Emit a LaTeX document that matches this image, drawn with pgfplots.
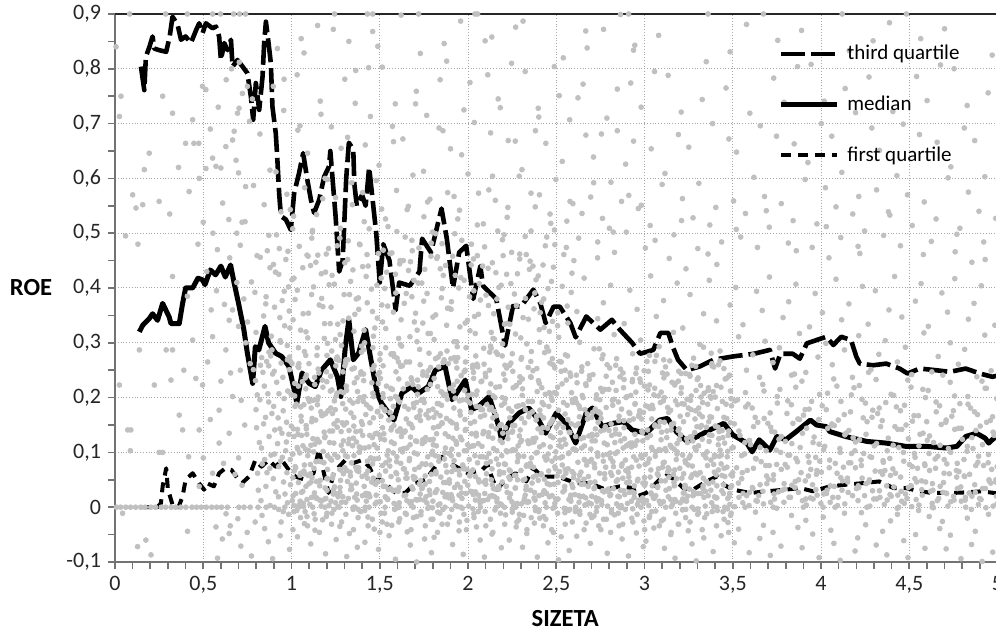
\documentclass[border=0pt]{standalone}
\usepackage{pgfplots}
\pgfplotsset{compat=1.18}
\usepackage{fontspec}
\setmainfont{Carlito}
\definecolor{ptgray}{RGB}{192,192,192}
\begin{document}
\begin{tikzpicture}
\begin{axis}[
    at={(0pt,0pt)}, anchor=south west,
    scale only axis,
    width=441.25pt, height=274pt,
    xmin=0, xmax=5, ymin=-0.1, ymax=0.9,
    xtick={0,0.5,1,1.5,2,2.5,3,3.5,4,4.5,5},
    ytick={-0.1,0,0.1,0.2,0.3,0.4,0.5,0.6,0.7,0.8,0.9},
    minor x tick num=4, minor y tick num=1,
    tick pos=left, tick align=outside,
    major tick length=3.5pt, minor tick length=3.5pt,
    tick style={black!55, line width=0.8pt},
    axis line style={black!55, line width=0.9pt},
    grid=major,
    major grid style={densely dotted, black!35, line width=0.5pt},
    /pgf/number format/use comma,
    /pgf/number format/assume math mode=true,
    ticklabel style={font=\fontsize{11}{13}\selectfont, text=black!85},
    xlabel={SIZETA}, ylabel={ROE},
    every axis x label/.style={at={(rel axis cs:0.5,0)}, anchor=center, yshift=-28.5pt, xshift=4.5pt,
        font=\fontsize{12.3}{14}\selectfont\bfseries},
    every axis y label/.style={at={(rel axis cs:0,0.5)}, anchor=center, xshift=-42pt,
        font=\fontsize{12.3}{14}\selectfont\bfseries},
    legend style={draw=none, fill=none, at={(rel axis cs:0.7513,1)}, anchor=north west, yshift=-15.5pt,
        inner sep=0pt, row sep=16.5pt, column sep=4pt, font=\fontsize{10.5}{12}\selectfont,
        nodes={inner sep=0pt}},
    legend cell align=left,
    legend image code/.code={\draw[#1] (0pt,0pt) -- (28pt,0pt);},
    pts/.style={only marks, mark=*, mark size=1.2pt, color=ptgray, forget plot},
]
% ---- scatter: dense band x 1.0-3.5, first pass
\addplot[pts] coordinates {
(1.004,0.012)(0.993,0.087)(1.011,0.143)(0.998,0.206)(1.008,0.054)(0.988,0.251)
(1.021,0.074)(1.036,0.133)(1.027,0.188)(1.042,0.262)(1.024,0.025)(1.032,0.109)
(1.07,0.066)(1.056,0.157)(1.061,0.229)(1.049,0.011)(1.065,0.112)(1.052,0.183)
(1.094,0.058)(1.083,0.149)(1.101,0.193)(1.088,0.014)(1.098,0.103)(1.078,0.236)
(1.111,0.046)(1.126,0.101)(1.117,0.162)(1.132,0.224)(1.114,0.018)(1.122,0.195)
(1.16,0.039)(1.146,0.124)(1.151,0.201)(1.139,0.083)(1.155,0.245)(1.142,0.017)
(1.184,0.081)(1.173,0.167)(1.191,0.035)(1.178,0.219)(1.188,0.127)(1.168,0.002)
(1.201,0.031)(1.216,0.118)(1.207,0.176)(1.222,0.239)(1.204,0.069)(1.212,0.003)
(1.25,0.008)(1.236,0.059)(1.241,0.152)(1.229,0.214)(1.245,0.096)(1.232,0.171)
(1.274,0.027)(1.263,0.092)(1.281,0.138)(1.268,0.268)(1.278,0.049)(1.258,0.208)
(1.291,0.019)(1.306,0.094)(1.297,0.15)(1.312,0.213)(1.294,0.061)(1.302,0.258)
(1.34,0.081)(1.326,0.14)(1.331,0.195)(1.319,0.269)(1.335,0.032)(1.322,0.116)
(1.364,0.073)(1.353,0.164)(1.371,0.236)(1.358,0.018)(1.368,0.119)(1.348,0.19)
(1.381,0.065)(1.396,0.156)(1.387,0.2)(1.402,0.021)(1.384,0.11)(1.392,0.243)
(1.43,0.053)(1.416,0.108)(1.421,0.169)(1.409,0.231)(1.425,0.025)(1.412,0.202)
(1.454,0.046)(1.443,0.131)(1.461,0.208)(1.448,0.09)(1.458,0.252)(1.438,0.024)
(1.471,0.088)(1.486,0.174)(1.477,0.042)(1.492,0.226)(1.474,0.134)(1.482,0.009)
(1.52,0.038)(1.506,0.125)(1.511,0.183)(1.499,0.246)(1.515,0.076)(1.502,0.01)
(1.544,0.015)(1.533,0.066)(1.551,0.159)(1.538,0.221)(1.548,0.103)(1.528,0.178)
(1.561,0.034)(1.576,0.099)(1.567,0.145)(1.582,0.275)(1.564,0.056)(1.572,0.215)
(1.61,0.008)(1.596,0.083)(1.601,0.139)(1.589,0.202)(1.605,0.05)(1.592,0.247)
(1.634,0.07)(1.623,0.129)(1.641,0.184)(1.628,0.258)(1.638,0.021)(1.618,0.105)
(1.651,0.062)(1.666,0.153)(1.657,0.225)(1.672,0.007)(1.654,0.108)(1.662,0.179)
(1.70,0.054)(1.686,0.145)(1.691,0.189)(1.679,0.01)(1.695,0.099)(1.682,0.232)
(1.724,0.042)(1.713,0.097)(1.731,0.158)(1.718,0.22)(1.728,0.014)(1.708,0.191)
(1.741,0.035)(1.756,0.12)(1.747,0.197)(1.762,0.079)(1.744,0.241)(1.752,0.013)
(1.79,0.077)(1.776,0.163)(1.781,0.031)(1.769,0.215)(1.785,0.123)(1.772,-0.002)
(1.814,0.027)(1.803,0.114)(1.821,0.172)(1.808,0.235)(1.818,0.065)(1.798,-0.001)
(1.831,0.004)(1.846,0.055)(1.837,0.148)(1.852,0.21)(1.834,0.092)(1.842,0.167)
(1.88,0.023)(1.866,0.088)(1.871,0.134)(1.859,0.264)(1.875,0.045)(1.862,0.204)
(1.904,0.023)(1.893,0.098)(1.911,0.154)(1.898,0.217)(1.908,0.065)(1.888,0.262)
(1.921,0.085)(1.936,0.144)(1.927,0.199)(1.942,0.273)(1.924,0.036)(1.932,0.12)
(1.97,0.077)(1.956,0.168)(1.961,0.24)(1.949,0.022)(1.965,0.123)(1.952,0.194)
(1.994,0.069)(1.983,0.16)(2.001,0.204)(1.988,0.025)(1.998,0.114)(1.978,0.247)
(2.011,0.057)(2.026,0.112)(2.017,0.173)(2.032,0.235)(2.014,0.029)(2.022,0.206)
(2.06,0.05)(2.046,0.135)(2.051,0.212)(2.039,0.094)(2.055,0.256)(2.042,0.028)
(2.084,0.092)(2.073,0.178)(2.091,0.046)(2.078,0.23)(2.088,0.138)(2.068,0.013)
(2.101,0.042)(2.116,0.129)(2.107,0.187)(2.122,0.25)(2.104,0.08)(2.112,0.014)
(2.15,0.019)(2.136,0.07)(2.141,0.163)(2.129,0.225)(2.145,0.107)(2.132,0.182)
(2.174,0.038)(2.163,0.103)(2.181,0.149)(2.168,0.279)(2.178,0.06)(2.158,0.219)
(2.191,0.004)(2.206,0.079)(2.197,0.135)(2.212,0.198)(2.194,0.046)(2.202,0.243)
(2.24,0.066)(2.226,0.125)(2.231,0.18)(2.219,0.254)(2.235,0.017)(2.222,0.101)
(2.264,0.058)(2.253,0.149)(2.271,0.221)(2.258,0.003)(2.268,0.104)(2.248,0.175)
(2.281,0.05)(2.296,0.141)(2.287,0.185)(2.302,0.006)(2.284,0.095)(2.292,0.228)
(2.33,0.038)(2.316,0.093)(2.321,0.154)(2.309,0.216)(2.325,0.01)(2.312,0.187)
(2.354,0.031)(2.343,0.116)(2.361,0.193)(2.348,0.075)(2.358,0.237)(2.338,0.009)
(2.371,0.073)(2.386,0.159)(2.377,0.027)(2.392,0.211)(2.374,0.119)(2.382,-0.006)
(2.42,0.023)(2.406,0.11)(2.411,0.168)(2.399,0.231)(2.415,0.061)(2.402,-0.005)
(2.444,0.0)(2.433,0.051)(2.451,0.144)(2.438,0.206)(2.448,0.088)(2.428,0.163)
(2.461,0.019)(2.476,0.084)(2.467,0.13)(2.482,0.26)(2.464,0.041)(2.472,0.2)
(2.51,0.015)(2.496,0.09)(2.501,0.146)(2.489,0.209)(2.505,0.057)(2.492,0.254)
(2.534,0.077)(2.523,0.136)(2.541,0.191)(2.528,0.265)(2.538,0.028)(2.518,0.112)
(2.551,0.069)(2.566,0.16)(2.557,0.232)(2.572,0.014)(2.554,0.115)(2.562,0.186)
(2.60,0.061)(2.586,0.152)(2.591,0.196)(2.579,0.017)(2.595,0.106)(2.582,0.239)
(2.624,0.049)(2.613,0.104)(2.631,0.165)(2.618,0.227)(2.628,0.021)(2.608,0.198)
(2.641,0.042)(2.656,0.127)(2.647,0.204)(2.662,0.086)(2.644,0.248)(2.652,0.02)
(2.69,0.084)(2.676,0.17)(2.681,0.038)(2.669,0.222)(2.685,0.13)(2.672,0.005)
(2.714,0.034)(2.703,0.121)(2.721,0.179)(2.708,0.242)(2.718,0.072)(2.698,0.006)
(2.731,0.011)(2.746,0.062)(2.737,0.155)(2.752,0.217)(2.734,0.099)(2.742,0.174)
(2.78,0.03)(2.766,0.095)(2.771,0.141)(2.759,0.271)(2.775,0.052)(2.762,0.211)
(2.804,0.021)(2.793,0.096)(2.811,0.152)(2.798,0.215)(2.808,0.063)(2.788,0.26)
(2.821,0.083)(2.836,0.142)(2.827,0.197)(2.842,0.271)(2.824,0.034)(2.832,0.118)
(2.87,0.075)(2.856,0.166)(2.861,0.238)(2.849,0.02)(2.865,0.121)(2.852,0.192)
(2.894,0.067)(2.883,0.158)(2.901,0.202)(2.888,0.023)(2.898,0.112)(2.878,0.245)
(2.911,0.055)(2.926,0.11)(2.917,0.171)(2.932,0.233)(2.914,0.027)(2.922,0.204)
(2.96,0.048)(2.946,0.133)(2.951,0.21)(2.939,0.092)(2.955,0.254)(2.942,0.026)
(2.984,0.09)(2.973,0.176)(2.991,0.044)(2.978,0.228)(2.988,0.136)(2.968,0.011)
(3.001,0.04)(3.016,0.127)(3.007,0.185)(3.022,0.248)(3.004,0.078)(3.012,0.012)
(3.05,0.017)(3.036,0.068)(3.041,0.161)(3.029,0.223)(3.045,0.105)(3.032,0.18)
(3.074,0.036)(3.063,0.101)(3.081,0.147)(3.068,0.277)(3.078,0.058)(3.058,0.217)
(3.091,0.006)(3.106,0.081)(3.097,0.137)(3.112,0.2)(3.094,0.048)(3.102,0.245)
(3.14,0.068)(3.126,0.127)(3.131,0.182)(3.119,0.256)(3.135,0.019)(3.122,0.103)
(3.164,0.06)(3.153,0.151)(3.171,0.223)(3.158,0.005)(3.168,0.106)(3.148,0.177)
(3.181,0.052)(3.196,0.143)(3.187,0.187)(3.202,0.008)(3.184,0.097)(3.192,0.23)
(3.23,0.04)(3.216,0.095)(3.221,0.156)(3.209,0.218)(3.225,0.012)(3.212,0.189)
(3.254,0.033)(3.243,0.118)(3.261,0.195)(3.248,0.077)(3.258,0.239)(3.238,0.011)
(3.271,0.075)(3.286,0.161)(3.277,0.029)(3.292,0.213)(3.274,0.121)(3.282,-0.004)
(3.32,0.025)(3.306,0.112)(3.311,0.17)(3.299,0.233)(3.315,0.063)(3.302,-0.003)
(3.344,0.002)(3.333,0.053)(3.351,0.146)(3.338,0.208)(3.348,0.09)(3.328,0.165)
(3.361,0.021)(3.376,0.086)(3.367,0.132)(3.382,0.262)(3.364,0.043)(3.372,0.202)
(3.41,0.017)(3.396,0.092)(3.401,0.148)(3.389,0.211)(3.405,0.059)(3.392,0.256)
(3.434,0.079)(3.423,0.138)(3.441,0.193)(3.428,0.267)(3.438,0.03)(3.418,0.114)
(3.451,0.071)(3.466,0.162)(3.457,0.234)(3.472,0.016)(3.454,0.117)(3.462,0.188)
(3.50,0.063)(3.486,0.154)(3.491,0.198)(3.479,0.019)(3.495,0.108)(3.482,0.241)
};
% ---- dense band, second pass
\addplot[pts] coordinates {
(1.009,0.021)(1.024,0.072)(1.014,0.129)(1.02,0.184)(1.005,0.097)(1.018,0.226)
(1.052,0.062)(1.042,0.004)(1.057,0.131)(1.037,0.257)(1.047,0.099)(1.04,0.045)
(1.064,0.029)(1.079,0.106)(1.081,0.216)(1.073,0.077)(1.084,0.143)(1.068,0.001)
(1.099,0.043)(1.114,0.156)(1.104,0.005)(1.11,0.113)(1.095,0.198)(1.108,0.061)
(1.142,0.016)(1.132,0.115)(1.147,0.187)(1.127,0.071)(1.137,0.159)(1.13,0.026)
(1.154,0.084)(1.169,0.011)(1.171,0.168)(1.163,0.049)(1.174,0.232)(1.158,0.119)
(1.189,0.015)(1.204,0.094)(1.194,0.171)(1.2,0.052)(1.185,0.137)(1.198,0.247)
(1.232,0.053)(1.222,0.181)(1.237,0.024)(1.217,0.139)(1.227,0.086)(1.22,0.212)
(1.244,0.037)(1.259,0.146)(1.261,0.091)(1.253,0.203)(1.264,0.019)(1.248,0.178)
(1.279,0.068)(1.294,0.121)(1.284,0.009)(1.29,0.189)(1.275,0.036)(1.288,0.154)
(1.322,0.016)(1.312,0.067)(1.327,0.124)(1.307,0.179)(1.317,0.092)(1.31,0.221)
(1.334,0.057)(1.349,-0.001)(1.351,0.126)(1.343,0.252)(1.354,0.094)(1.338,0.04)
(1.369,0.024)(1.384,0.101)(1.374,0.211)(1.38,0.072)(1.365,0.138)(1.378,-0.004)
(1.412,0.038)(1.402,0.151)(1.417,0.0)(1.397,0.108)(1.407,0.193)(1.4,0.056)
(1.424,0.011)(1.439,0.11)(1.441,0.182)(1.433,0.066)(1.444,0.154)(1.428,0.021)
(1.459,0.079)(1.474,0.006)(1.464,0.163)(1.47,0.044)(1.455,0.227)(1.468,0.114)
(1.502,0.01)(1.492,0.089)(1.507,0.166)(1.487,0.047)(1.497,0.132)(1.49,0.242)
(1.514,0.048)(1.529,0.176)(1.531,0.019)(1.523,0.134)(1.534,0.081)(1.518,0.207)
(1.549,0.032)(1.564,0.141)(1.554,0.086)(1.56,0.198)(1.545,0.014)(1.558,0.173)
(1.592,0.063)(1.582,0.116)(1.597,0.004)(1.577,0.184)(1.587,0.031)(1.58,0.149)
(1.604,0.029)(1.619,0.08)(1.621,0.137)(1.613,0.192)(1.624,0.105)(1.608,0.234)
(1.639,0.07)(1.654,0.012)(1.644,0.139)(1.65,0.265)(1.635,0.107)(1.648,0.053)
(1.682,0.037)(1.672,0.114)(1.687,0.224)(1.667,0.085)(1.677,0.151)(1.67,0.009)
(1.694,0.051)(1.709,0.164)(1.711,0.013)(1.703,0.121)(1.714,0.206)(1.698,0.069)
(1.729,0.024)(1.744,0.123)(1.734,0.195)(1.74,0.079)(1.725,0.167)(1.738,0.034)
(1.772,0.092)(1.762,0.019)(1.777,0.176)(1.757,0.057)(1.767,0.24)(1.76,0.127)
(1.784,0.023)(1.799,0.102)(1.801,0.179)(1.793,0.06)(1.804,0.145)(1.788,0.255)
(1.819,0.061)(1.834,0.189)(1.824,0.032)(1.83,0.147)(1.815,0.094)(1.828,0.22)
(1.862,0.045)(1.852,0.154)(1.867,0.099)(1.847,0.211)(1.857,0.027)(1.85,0.186)
(1.874,0.076)(1.889,0.129)(1.891,0.017)(1.883,0.197)(1.894,0.044)(1.878,0.162)
(1.909,0.018)(1.924,0.069)(1.914,0.126)(1.92,0.181)(1.905,0.094)(1.918,0.223)
(1.952,0.059)(1.942,0.001)(1.957,0.128)(1.937,0.254)(1.947,0.096)(1.94,0.042)
(1.964,0.026)(1.979,0.103)(1.981,0.213)(1.973,0.074)(1.984,0.14)(1.968,-0.002)
(1.999,0.04)(2.014,0.153)(2.004,0.002)(2.01,0.11)(1.995,0.195)(2.008,0.058)
(2.042,0.013)(2.032,0.112)(2.047,0.184)(2.027,0.068)(2.037,0.156)(2.03,0.023)
(2.054,0.081)(2.069,0.008)(2.071,0.165)(2.063,0.046)(2.074,0.229)(2.058,0.116)
(2.089,0.012)(2.104,0.091)(2.094,0.168)(2.1,0.049)(2.085,0.134)(2.098,0.244)
(2.132,0.05)(2.122,0.178)(2.137,0.021)(2.117,0.136)(2.127,0.083)(2.12,0.209)
(2.144,0.034)(2.159,0.143)(2.161,0.088)(2.153,0.2)(2.164,0.016)(2.148,0.175)
(2.179,0.065)(2.194,0.118)(2.184,0.006)(2.19,0.186)(2.175,0.033)(2.188,0.151)
(2.222,0.027)(2.212,0.078)(2.227,0.135)(2.207,0.19)(2.217,0.103)(2.21,0.232)
(2.234,0.068)(2.249,0.01)(2.251,0.137)(2.243,0.263)(2.254,0.105)(2.238,0.051)
(2.269,0.035)(2.284,0.112)(2.274,0.222)(2.28,0.083)(2.265,0.149)(2.278,0.007)
(2.312,0.049)(2.302,0.162)(2.317,0.011)(2.297,0.119)(2.307,0.204)(2.3,0.067)
(2.324,0.022)(2.339,0.121)(2.341,0.193)(2.333,0.077)(2.344,0.165)(2.328,0.032)
(2.359,0.09)(2.374,0.017)(2.364,0.174)(2.37,0.055)(2.355,0.238)(2.368,0.125)
(2.402,0.021)(2.392,0.1)(2.407,0.177)(2.387,0.058)(2.397,0.143)(2.39,0.253)
(2.414,0.059)(2.429,0.187)(2.431,0.03)(2.423,0.145)(2.434,0.092)(2.418,0.218)
(2.449,0.043)(2.464,0.152)(2.454,0.097)(2.46,0.209)(2.445,0.025)(2.458,0.184)
(2.492,0.074)(2.482,0.127)(2.497,0.015)(2.477,0.195)(2.487,0.042)(2.48,0.16)
(2.504,0.014)(2.519,0.065)(2.521,0.122)(2.513,0.177)(2.524,0.09)(2.508,0.219)
(2.539,0.055)(2.554,-0.003)(2.544,0.124)(2.55,0.25)(2.535,0.092)(2.548,0.038)
(2.582,0.022)(2.572,0.099)(2.587,0.209)(2.567,0.07)(2.577,0.136)(2.57,-0.006)
(2.594,0.036)(2.609,0.149)(2.611,-0.002)(2.603,0.106)(2.614,0.191)(2.598,0.054)
(2.629,0.009)(2.644,0.108)(2.634,0.18)(2.64,0.064)(2.625,0.152)(2.638,0.019)
(2.672,0.077)(2.662,0.004)(2.677,0.161)(2.657,0.042)(2.667,0.225)(2.66,0.112)
(2.684,0.008)(2.699,0.087)(2.701,0.164)(2.693,0.045)(2.704,0.13)(2.688,0.24)
(2.719,0.046)(2.734,0.174)(2.724,0.017)(2.73,0.132)(2.715,0.079)(2.728,0.205)
(2.762,0.03)(2.752,0.139)(2.767,0.084)(2.747,0.196)(2.757,0.012)(2.75,0.171)
(2.774,0.061)(2.789,0.114)(2.791,0.002)(2.783,0.182)(2.794,0.029)(2.778,0.147)
(2.809,0.023)(2.824,0.074)(2.814,0.131)(2.82,0.186)(2.805,0.099)(2.818,0.228)
(2.852,0.064)(2.842,0.006)(2.857,0.133)(2.837,0.259)(2.847,0.101)(2.84,0.047)
(2.864,0.031)(2.879,0.108)(2.881,0.218)(2.873,0.079)(2.884,0.145)(2.868,0.003)
(2.899,0.045)(2.914,0.158)(2.904,0.007)(2.91,0.115)(2.895,0.2)(2.908,0.063)
(2.942,0.018)(2.932,0.117)(2.947,0.189)(2.927,0.073)(2.937,0.161)(2.93,0.028)
(2.954,0.086)(2.969,0.013)(2.971,0.17)(2.963,0.051)(2.974,0.234)(2.958,0.121)
(2.989,0.017)(3.004,0.096)(2.994,0.173)(3.0,0.054)(2.985,0.139)(2.998,0.249)
(3.032,0.055)(3.022,0.183)(3.037,0.026)(3.017,0.141)(3.027,0.088)(3.02,0.214)
(3.044,0.039)(3.059,0.148)(3.061,0.093)(3.053,0.205)(3.064,0.021)(3.048,0.18)
(3.079,0.07)(3.094,0.123)(3.084,0.011)(3.09,0.191)(3.075,0.038)(3.088,0.156)
(3.122,0.031)(3.112,0.082)(3.127,0.139)(3.107,0.194)(3.117,0.107)(3.11,0.236)
(3.134,0.072)(3.149,0.014)(3.151,0.141)(3.143,0.267)(3.154,0.109)(3.138,0.055)
(3.169,0.039)(3.184,0.116)(3.174,0.226)(3.18,0.087)(3.165,0.153)(3.178,0.011)
(3.212,0.053)(3.202,0.166)(3.217,0.015)(3.197,0.123)(3.207,0.208)(3.2,0.071)
(3.224,0.026)(3.239,0.125)(3.241,0.197)(3.233,0.081)(3.244,0.169)(3.228,0.036)
(3.259,0.094)(3.274,0.021)(3.264,0.178)(3.27,0.059)(3.255,0.242)(3.268,0.129)
(3.302,0.025)(3.292,0.104)(3.307,0.181)(3.287,0.062)(3.297,0.147)(3.29,0.257)
(3.314,0.063)(3.329,0.191)(3.331,0.034)(3.323,0.149)(3.334,0.096)(3.318,0.222)
(3.349,0.047)(3.364,0.156)(3.354,0.101)(3.36,0.213)(3.345,0.029)(3.358,0.188)
(3.392,0.078)(3.382,0.131)(3.397,0.019)(3.377,0.199)(3.387,0.046)(3.38,0.164)
(3.404,0.017)(3.419,0.068)(3.421,0.125)(3.413,0.18)(3.424,0.093)(3.408,0.222)
(3.439,0.058)(3.454,0.0)(3.444,0.127)(3.45,0.253)(3.435,0.095)(3.448,0.041)
(3.482,0.025)(3.472,0.102)(3.487,0.212)(3.467,0.073)(3.477,0.139)(3.47,-0.003)
(3.494,0.039)(3.509,0.152)(3.511,0.001)(3.503,0.109)(3.514,0.194)(3.498,0.057)
};
% ---- dense band, third pass
\addplot[pts] coordinates {
(1.013,0.003)(0.994,0.041)(1.008,0.097)(0.999,0.148)(1.018,0.203)(1.003,0.262)(1.015,0.066)
(1.03,-0.006)(1.048,0.058)(1.035,0.106)(1.054,0.166)(1.039,0.221)(1.057,0.027)(1.034,0.142)
(1.082,0.038)(1.092,0.094)(1.066,0.007)(1.087,0.133)(1.07,0.187)(1.084,0.241)(1.077,0.061)
(1.126,0.019)(1.107,0.078)(1.121,0.125)(1.112,0.181)(1.131,0.237)(1.116,0.054)(1.128,-0.012)
(1.142,0.047)(1.16,0.013)(1.147,0.121)(1.166,0.174)(1.151,0.252)(1.169,0.083)(1.146,0.196)
(1.195,0.016)(1.205,0.052)(1.179,0.102)(1.2,0.229)(1.183,0.169)(1.197,-0.017)(1.19,0.129)
(1.238,0.032)(1.219,0.089)(1.233,0.139)(1.224,0.011)(1.243,0.194)(1.228,0.285)(1.24,0.117)
(1.255,0.024)(1.273,0.069)(1.26,0.158)(1.279,0.211)(1.264,0.001)(1.282,0.113)(1.259,0.274)
(1.307,0.009)(1.317,0.047)(1.291,0.103)(1.312,0.154)(1.295,0.209)(1.309,0.268)(1.302,0.072)
(1.351,0.0)(1.332,0.064)(1.346,0.112)(1.337,0.172)(1.356,0.227)(1.341,0.033)(1.353,0.148)
(1.367,0.044)(1.385,0.1)(1.372,0.013)(1.391,0.139)(1.376,0.193)(1.394,0.247)(1.371,0.067)
(1.42,0.025)(1.43,0.084)(1.404,0.131)(1.425,0.187)(1.408,0.243)(1.422,0.06)(1.415,-0.006)
(1.463,0.053)(1.444,0.019)(1.458,0.127)(1.449,0.18)(1.468,0.258)(1.453,0.089)(1.465,0.202)
(1.48,0.022)(1.498,0.058)(1.485,0.108)(1.504,0.235)(1.489,0.175)(1.507,-0.011)(1.484,0.135)
(1.532,0.038)(1.542,0.095)(1.516,0.145)(1.537,0.017)(1.52,0.2)(1.534,0.291)(1.527,0.123)
(1.576,0.03)(1.557,0.075)(1.571,0.164)(1.562,0.217)(1.581,0.007)(1.566,0.119)(1.578,0.28)
(1.592,-0.002)(1.61,0.036)(1.597,0.092)(1.616,0.143)(1.601,0.198)(1.619,0.257)(1.596,0.061)
(1.645,-0.011)(1.655,0.053)(1.629,0.101)(1.65,0.161)(1.633,0.216)(1.647,0.022)(1.64,0.137)
(1.688,0.033)(1.669,0.089)(1.683,0.002)(1.674,0.128)(1.693,0.182)(1.678,0.236)(1.69,0.056)
(1.705,0.014)(1.723,0.073)(1.71,0.12)(1.729,0.176)(1.714,0.232)(1.732,0.049)(1.709,-0.017)
(1.757,0.042)(1.767,0.008)(1.741,0.116)(1.762,0.169)(1.745,0.247)(1.759,0.078)(1.752,0.191)
(1.801,0.011)(1.782,0.047)(1.796,0.097)(1.787,0.224)(1.806,0.164)(1.791,-0.022)(1.803,0.124)
(1.817,0.027)(1.835,0.084)(1.822,0.134)(1.841,0.006)(1.826,0.189)(1.844,0.28)(1.821,0.112)
(1.87,0.019)(1.88,0.064)(1.854,0.153)(1.875,0.206)(1.858,-0.004)(1.872,0.108)(1.865,0.269)
(1.913,0.012)(1.894,0.05)(1.908,0.106)(1.899,0.157)(1.918,0.212)(1.903,0.271)(1.915,0.075)
(1.93,0.003)(1.948,0.067)(1.935,0.115)(1.954,0.175)(1.939,0.23)(1.957,0.036)(1.934,0.151)
(1.982,0.047)(1.992,0.103)(1.966,0.016)(1.987,0.142)(1.97,0.196)(1.984,0.25)(1.977,0.07)
(2.026,0.028)(2.007,0.087)(2.021,0.134)(2.012,0.19)(2.031,0.246)(2.016,0.063)(2.028,-0.003)
(2.042,0.056)(2.06,0.022)(2.047,0.13)(2.066,0.183)(2.051,0.261)(2.069,0.092)(2.046,0.205)
(2.095,0.025)(2.105,0.061)(2.079,0.111)(2.1,0.238)(2.083,0.178)(2.097,-0.008)(2.09,0.138)
(2.138,0.041)(2.119,0.098)(2.133,0.148)(2.124,0.02)(2.143,0.203)(2.128,0.294)(2.14,0.126)
(2.155,0.033)(2.173,0.078)(2.16,0.167)(2.179,0.22)(2.164,0.01)(2.182,0.122)(2.159,0.283)
(2.207,0.0)(2.217,0.038)(2.191,0.094)(2.212,0.145)(2.195,0.2)(2.209,0.259)(2.202,0.063)
(2.251,-0.009)(2.232,0.055)(2.246,0.103)(2.237,0.163)(2.256,0.218)(2.241,0.024)(2.253,0.139)
(2.267,0.035)(2.285,0.091)(2.272,0.004)(2.291,0.13)(2.276,0.184)(2.294,0.238)(2.271,0.058)
(2.32,0.016)(2.33,0.075)(2.304,0.122)(2.325,0.178)(2.308,0.234)(2.322,0.051)(2.315,-0.015)
(2.363,0.044)(2.344,0.01)(2.358,0.118)(2.349,0.171)(2.368,0.249)(2.353,0.08)(2.365,0.193)
(2.38,0.013)(2.398,0.049)(2.385,0.099)(2.404,0.226)(2.389,0.166)(2.407,-0.02)(2.384,0.126)
(2.432,0.029)(2.442,0.086)(2.416,0.136)(2.437,0.008)(2.42,0.191)(2.434,0.282)(2.427,0.114)
(2.476,0.021)(2.457,0.066)(2.471,0.155)(2.462,0.208)(2.481,-0.002)(2.466,0.11)(2.478,0.271)
(2.492,0.007)(2.51,0.045)(2.497,0.101)(2.516,0.152)(2.501,0.207)(2.519,0.266)(2.496,0.07)
(2.545,-0.002)(2.555,0.062)(2.529,0.11)(2.55,0.17)(2.533,0.225)(2.547,0.031)(2.54,0.146)
(2.588,0.042)(2.569,0.098)(2.583,0.011)(2.574,0.137)(2.593,0.191)(2.578,0.245)(2.59,0.065)
(2.605,0.023)(2.623,0.082)(2.61,0.129)(2.629,0.185)(2.614,0.241)(2.632,0.058)(2.609,-0.008)
(2.657,0.051)(2.667,0.017)(2.641,0.125)(2.662,0.178)(2.645,0.256)(2.659,0.087)(2.652,0.2)
(2.701,0.02)(2.682,0.056)(2.696,0.106)(2.687,0.233)(2.706,0.173)(2.691,-0.013)(2.703,0.133)
(2.717,0.036)(2.735,0.093)(2.722,0.143)(2.741,0.015)(2.726,0.198)(2.744,0.289)(2.721,0.121)
(2.77,0.028)(2.78,0.073)(2.754,0.162)(2.775,0.215)(2.758,0.005)(2.772,0.117)(2.765,0.278)
(2.813,-0.005)(2.794,0.033)(2.808,0.089)(2.799,0.14)(2.818,0.195)(2.803,0.254)(2.815,0.058)
(2.83,-0.014)(2.848,0.05)(2.835,0.098)(2.854,0.158)(2.839,0.213)(2.857,0.019)(2.834,0.134)
(2.882,0.03)(2.892,0.086)(2.866,-0.001)(2.887,0.125)(2.87,0.179)(2.884,0.233)(2.877,0.053)
(2.926,0.011)(2.907,0.07)(2.921,0.117)(2.912,0.173)(2.931,0.229)(2.916,0.046)(2.928,-0.02)
(2.942,0.039)(2.96,0.005)(2.947,0.113)(2.966,0.166)(2.951,0.244)(2.969,0.075)(2.946,0.188)
(2.995,0.008)(3.005,0.044)(2.979,0.094)(3.0,0.221)(2.983,0.161)(2.997,-0.025)(2.99,0.121)
(3.038,0.024)(3.019,0.081)(3.033,0.131)(3.024,0.003)(3.043,0.186)(3.028,0.277)(3.04,0.109)
(3.055,0.016)(3.073,0.061)(3.06,0.15)(3.079,0.203)(3.064,-0.007)(3.082,0.105)(3.059,0.266)
(3.107,0.01)(3.117,0.048)(3.091,0.104)(3.112,0.155)(3.095,0.21)(3.109,0.269)(3.102,0.073)
(3.151,0.001)(3.132,0.065)(3.146,0.113)(3.137,0.173)(3.156,0.228)(3.141,0.034)(3.153,0.149)
(3.167,0.045)(3.185,0.101)(3.172,0.014)(3.191,0.14)(3.176,0.194)(3.194,0.248)(3.171,0.068)
(3.22,0.026)(3.23,0.085)(3.204,0.132)(3.225,0.188)(3.208,0.244)(3.222,0.061)(3.215,-0.005)
(3.263,0.054)(3.244,0.02)(3.258,0.128)(3.249,0.181)(3.268,0.259)(3.253,0.09)(3.265,0.203)
(3.28,0.023)(3.298,0.059)(3.285,0.109)(3.304,0.236)(3.289,0.176)(3.307,-0.01)(3.284,0.136)
(3.332,0.039)(3.342,0.096)(3.316,0.146)(3.337,0.018)(3.32,0.201)(3.334,0.292)(3.327,0.124)
(3.376,0.031)(3.357,0.076)(3.371,0.165)(3.362,0.218)(3.381,0.008)(3.366,0.12)(3.378,0.281)
(3.392,0.001)(3.41,0.039)(3.397,0.095)(3.416,0.146)(3.401,0.201)(3.419,0.26)(3.396,0.064)
(3.445,-0.008)(3.455,0.056)(3.429,0.104)(3.45,0.164)(3.433,0.219)(3.447,0.025)(3.44,0.14)
(3.488,0.036)(3.469,0.092)(3.483,0.005)(3.474,0.131)(3.493,0.185)(3.478,0.239)(3.49,0.059)
};
% ---- band x 0.8-1.0
\addplot[pts] coordinates {
(0.802,0.145)(0.796,0.231)(0.808,0.062)(0.799,0.178)
(0.827,0.012)(0.821,0.196)(0.83,0.108)(0.824,0.259)
(0.848,0.087)(0.853,0.164)(0.846,0.221)(0.855,0.038)
(0.873,0.129)(0.879,0.003)(0.871,0.192)(0.877,0.071)
(0.902,0.248)(0.897,0.052)(0.905,0.141)(0.899,0.184)(0.904,0.097)
(0.926,0.019)(0.921,0.116)(0.929,0.207)(0.924,0.163)(0.928,0.074)
(0.951,0.237)(0.946,0.135)(0.955,0.046)(0.948,0.091)(0.953,0.176)
(0.977,0.008)(0.972,0.155)(0.979,0.212)(0.974,0.063)(0.971,0.119)
(0.812,0.031)(0.818,0.118)(0.838,0.246)(0.842,0.152)(0.861,0.063)(0.866,0.207)
(0.884,0.095)(0.889,0.171)(0.911,0.028)(0.916,0.228)(0.934,0.143)(0.938,0.084)
(0.958,0.198)(0.963,0.024)(0.985,0.133)(0.989,0.274)(0.806,0.205)(0.834,0.079)
(0.859,0.266)(0.893,0.243)(0.941,0.263)(0.967,0.103)
};
% ---- band x 3.5-5.0
\addplot[pts] coordinates {
(3.535,0.018)(3.522,0.072)(3.541,0.131)(3.527,0.196)(3.532,0.044)
(3.554,0.063)(3.569,0.118)(3.558,0.025)(3.572,0.209)(3.55,0.094)
(3.595,0.027)(3.582,0.067)(3.601,0.114)(3.587,0.188)(3.592,0.003)
(3.614,0.034)(3.629,0.089)(3.618,0.147)(3.632,0.012)(3.61,0.181)
(3.655,0.041)(3.642,0.155)(3.661,0.083)(3.647,0.021)(3.652,0.237)
(3.674,0.006)(3.689,0.103)(3.678,0.162)(3.692,0.057)(3.67,0.224)
(3.715,0.009)(3.702,0.051)(3.721,0.138)(3.707,0.076)(3.712,0.172)
(3.734,0.024)(3.749,0.078)(3.738,0.137)(3.752,0.202)(3.73,0.05)
(3.775,0.069)(3.762,0.124)(3.781,0.031)(3.767,0.215)(3.772,0.1)
(3.794,0.033)(3.809,0.073)(3.798,0.12)(3.812,0.194)(3.79,0.009)
(3.835,0.04)(3.822,0.095)(3.841,0.153)(3.827,0.018)(3.832,0.187)
(3.854,0.047)(3.869,0.161)(3.858,0.089)(3.872,0.027)(3.85,0.243)
(3.895,0.012)(3.882,0.109)(3.901,0.168)(3.887,0.063)(3.892,0.23)
(3.914,0.015)(3.929,0.057)(3.918,0.144)(3.932,0.082)(3.91,0.178)
(3.955,0.015)(3.942,0.069)(3.961,0.128)(3.947,0.193)(3.952,0.041)
(3.974,0.06)(3.989,0.115)(3.978,0.022)(3.992,0.206)(3.97,0.091)
(4.015,0.024)(4.002,0.064)(4.021,0.111)(4.007,0.185)(4.012,0.0)
(4.034,0.031)(4.049,0.086)(4.038,0.144)(4.052,0.009)(4.03,0.178)
(4.075,0.038)(4.062,0.152)(4.081,0.08)(4.067,0.018)(4.072,0.234)
(4.094,0.003)(4.109,0.1)(4.098,0.159)(4.112,0.054)(4.09,0.221)
(4.135,0.006)(4.122,0.048)(4.141,0.135)(4.127,0.073)(4.132,0.169)
(4.154,0.027)(4.169,0.081)(4.158,0.14)(4.172,0.205)(4.15,0.053)
(4.195,0.072)(4.182,0.127)(4.201,0.034)(4.187,0.218)(4.192,0.103)
(4.214,0.036)(4.229,0.076)(4.218,0.123)(4.232,0.197)(4.21,0.012)
(4.255,0.043)(4.242,0.098)(4.261,0.156)(4.247,0.021)(4.252,0.19)
(4.274,0.05)(4.289,0.164)(4.278,0.092)(4.292,0.03)(4.27,0.246)
(4.315,0.015)(4.302,0.112)(4.321,0.171)(4.307,0.066)(4.312,0.233)
(4.334,0.018)(4.349,0.06)(4.338,0.147)(4.352,0.085)(4.33,0.181)
(4.375,0.013)(4.362,0.067)(4.381,0.126)(4.367,0.191)(4.372,0.039)
(4.394,0.058)(4.409,0.113)(4.398,0.02)(4.412,0.204)(4.39,0.089)
(4.435,0.022)(4.422,0.062)(4.441,0.109)(4.427,0.183)(4.432,-0.002)
(4.454,0.029)(4.469,0.084)(4.458,0.142)(4.472,0.007)(4.45,0.176)
(4.495,0.036)(4.482,0.15)(4.501,0.078)(4.487,0.016)(4.492,0.232)
(4.514,0.001)(4.529,0.098)(4.518,0.157)(4.532,0.052)(4.51,0.219)
(4.555,0.004)(4.542,0.046)(4.561,0.133)(4.547,0.071)(4.552,0.167)
(4.574,0.022)(4.589,0.076)(4.578,0.135)(4.592,0.2)(4.57,0.048)
(4.615,0.067)(4.602,0.122)(4.621,0.029)(4.607,0.213)(4.612,0.098)
(4.634,0.031)(4.649,0.071)(4.638,0.118)(4.652,0.192)(4.63,0.007)
(4.675,0.038)(4.662,0.093)(4.681,0.151)(4.667,0.016)(4.672,0.185)
(4.694,0.045)(4.709,0.159)(4.698,0.087)(4.712,0.025)(4.69,0.241)
(4.735,0.01)(4.722,0.107)(4.741,0.166)(4.727,0.061)(4.732,0.228)
(4.754,0.013)(4.769,0.055)(4.758,0.142)(4.772,0.08)(4.75,0.176)
(4.795,0.011)(4.782,0.065)(4.801,0.124)(4.787,0.189)(4.792,0.037)
(4.814,0.056)(4.829,0.111)(4.818,0.018)(4.832,0.202)(4.81,0.087)
(4.855,0.02)(4.842,0.06)(4.861,0.107)(4.847,0.181)(4.852,-0.004)
(4.874,0.027)(4.889,0.082)(4.878,0.14)(4.892,0.005)(4.87,0.174)
(4.915,0.034)(4.902,0.148)(4.921,0.076)(4.907,0.014)(4.912,0.23)
(4.934,-0.001)(4.949,0.096)(4.938,0.155)(4.952,0.05)(4.93,0.217)
(4.975,0.002)(4.962,0.044)(4.981,0.131)(4.967,0.069)(4.972,0.165)
(4.994,0.02)(4.998,0.074)(4.991,0.133)(4.996,0.198)(4.99,0.046)
(3.551,0.052)(3.535,0.139)(3.557,0.008)(3.567,0.097)(3.579,0.021)(3.573,0.183)
(3.611,0.036)(3.595,0.122)(3.617,0.071)(3.627,0.164)(3.639,0.011)(3.633,0.088)
(3.671,0.029)(3.655,0.109)(3.677,0.212)(3.687,0.076)(3.699,0.153)(3.693,0.043)
(3.731,0.059)(3.715,0.146)(3.737,0.015)(3.747,0.104)(3.759,0.028)(3.753,0.19)
(3.791,0.043)(3.775,0.129)(3.797,0.078)(3.807,0.171)(3.819,0.018)(3.813,0.095)
(3.851,0.036)(3.835,0.116)(3.857,0.219)(3.867,0.083)(3.879,0.16)(3.873,0.05)
(3.911,0.048)(3.895,0.135)(3.917,0.004)(3.927,0.093)(3.939,0.017)(3.933,0.179)
(3.971,0.032)(3.955,0.118)(3.977,0.067)(3.987,0.16)(3.999,0.007)(3.993,0.084)
(4.031,0.025)(4.015,0.105)(4.037,0.208)(4.047,0.072)(4.059,0.149)(4.053,0.039)
(4.091,0.062)(4.075,0.149)(4.097,0.018)(4.107,0.107)(4.119,0.031)(4.113,0.193)
(4.151,0.046)(4.135,0.132)(4.157,0.081)(4.167,0.174)(4.179,0.021)(4.173,0.098)
(4.211,0.039)(4.195,0.119)(4.217,0.222)(4.227,0.086)(4.239,0.163)(4.233,0.053)
(4.271,0.046)(4.255,0.133)(4.277,0.002)(4.287,0.091)(4.299,0.015)(4.293,0.177)
(4.331,0.03)(4.315,0.116)(4.337,0.065)(4.347,0.158)(4.359,0.005)(4.353,0.082)
(4.391,0.023)(4.375,0.103)(4.397,0.206)(4.407,0.07)(4.419,0.147)(4.413,0.037)
(4.451,0.055)(4.435,0.142)(4.457,0.011)(4.467,0.1)(4.479,0.024)(4.473,0.186)
(4.511,0.039)(4.495,0.125)(4.517,0.074)(4.527,0.167)(4.539,0.014)(4.533,0.091)
(4.571,0.032)(4.555,0.112)(4.577,0.215)(4.587,0.079)(4.599,0.156)(4.593,0.046)
(4.631,0.043)(4.615,0.13)(4.637,-0.001)(4.647,0.088)(4.659,0.012)(4.653,0.174)
(4.691,0.027)(4.675,0.113)(4.697,0.062)(4.707,0.155)(4.719,0.002)(4.713,0.079)
(4.751,0.02)(4.735,0.1)(4.757,0.203)(4.767,0.067)(4.779,0.144)(4.773,0.034)
(4.811,0.057)(4.795,0.144)(4.817,0.013)(4.827,0.102)(4.839,0.026)(4.833,0.188)
(4.871,0.041)(4.855,0.127)(4.877,0.076)(4.887,0.169)(4.899,0.016)(4.893,0.093)
(4.931,0.034)(4.915,0.114)(4.937,0.217)(4.947,0.081)(4.959,0.158)(4.953,0.048)
(4.991,0.05)(4.975,0.137)(4.997,0.006)
};
% ---- middle band y 0.25-0.5
\addplot[pts] coordinates {
(0.766,0.262)(0.751,0.338)(0.773,0.411)(0.784,0.251)(0.799,0.319)(0.793,0.392)
(0.831,0.273)(0.842,0.349)(0.823,0.456)(0.871,0.258)(0.856,0.384)(0.878,0.437)
(0.889,0.287)(0.904,0.365)(0.898,0.443)(0.936,0.304)(0.947,0.377)(0.928,0.425)
(0.976,0.295)(0.961,0.331)(0.983,0.402)(0.994,0.266)(1.009,0.342)(1.003,0.415)
(1.041,0.255)(1.052,0.323)(1.033,0.396)(1.081,0.277)(1.066,0.353)(1.088,0.46)
(1.099,0.262)(1.114,0.388)(1.108,0.441)(1.146,0.291)(1.157,0.369)(1.138,0.447)
(1.186,0.308)(1.171,0.381)(1.193,0.429)(1.204,0.299)(1.219,0.335)(1.213,0.406)
(1.251,0.258)(1.262,0.334)(1.243,0.407)(1.291,0.247)(1.276,0.315)(1.298,0.388)
(1.309,0.269)(1.324,0.345)(1.318,0.452)(1.356,0.254)(1.367,0.38)(1.348,0.433)
(1.396,0.283)(1.381,0.361)(1.403,0.439)(1.414,0.3)(1.429,0.373)(1.423,0.421)
(1.461,0.291)(1.472,0.327)(1.453,0.398)(1.501,0.269)(1.486,0.345)(1.508,0.418)
(1.519,0.258)(1.534,0.326)(1.528,0.399)(1.566,0.28)(1.577,0.356)(1.558,0.463)
(1.606,0.265)(1.591,0.391)(1.613,0.444)(1.624,0.294)(1.639,0.372)(1.633,0.45)
(1.671,0.311)(1.682,0.384)(1.663,0.432)(1.711,0.302)(1.696,0.338)(1.718,0.409)
(1.729,0.26)(1.744,0.336)(1.738,0.409)(1.776,0.249)(1.787,0.317)(1.768,0.39)
(1.816,0.271)(1.801,0.347)(1.823,0.454)(1.834,0.256)(1.849,0.382)(1.843,0.435)
(1.881,0.285)(1.892,0.363)(1.873,0.441)(1.921,0.302)(1.906,0.375)(1.928,0.423)
(1.939,0.293)(1.954,0.329)(1.948,0.4)(1.986,0.265)(1.997,0.341)(1.978,0.414)
(2.026,0.254)(2.011,0.322)(2.033,0.395)(2.044,0.276)(2.059,0.352)(2.053,0.459)
(2.091,0.261)(2.102,0.387)(2.083,0.44)(2.131,0.29)(2.116,0.368)(2.138,0.446)
(2.149,0.307)(2.164,0.38)(2.158,0.428)(2.196,0.298)(2.207,0.334)(2.188,0.405)
(2.236,0.259)(2.221,0.335)(2.243,0.408)(2.254,0.248)(2.269,0.316)(2.263,0.389)
(2.301,0.27)(2.312,0.346)(2.293,0.453)(2.341,0.255)(2.326,0.381)(2.348,0.434)
(2.359,0.284)(2.374,0.362)(2.368,0.44)(2.406,0.301)(2.417,0.374)(2.398,0.422)
(2.446,0.292)(2.431,0.328)(2.453,0.399)(2.464,0.263)(2.479,0.339)(2.473,0.412)
(2.528,0.248)(2.508,0.331)(2.564,0.276)(2.585,0.392)(2.633,0.301)(2.617,0.357)
(2.678,0.262)(2.658,0.418)(2.714,0.289)(2.735,0.344)(2.783,0.239)(2.767,0.373)
(2.828,0.315)(2.808,0.405)(2.864,0.252)(2.885,0.335)(2.933,0.28)(2.917,0.396)
(2.978,0.305)(2.958,0.361)(3.014,0.266)(3.035,0.422)(3.083,0.293)(3.067,0.348)
(3.128,0.243)(3.108,0.377)(3.164,0.319)(3.185,0.409)(3.233,0.244)(3.217,0.327)
(3.278,0.272)(3.258,0.388)(3.314,0.297)(3.335,0.353)(3.383,0.258)(3.367,0.414)
(3.428,0.285)(3.408,0.34)(3.464,0.235)(3.485,0.369)(3.533,0.311)(3.517,0.401)
(3.578,0.25)(3.558,0.333)(3.614,0.278)(3.635,0.394)(3.683,0.303)(3.667,0.359)
(3.728,0.264)(3.708,0.42)(3.764,0.291)(3.785,0.346)(3.833,0.241)(3.817,0.375)
(3.878,0.317)(3.858,0.407)(3.914,0.246)(3.935,0.329)(3.983,0.274)(3.967,0.39)
(4.028,0.299)(4.008,0.355)(4.064,0.26)(4.085,0.416)(4.133,0.287)(4.117,0.342)
(4.178,0.237)(4.158,0.371)(4.214,0.313)(4.235,0.403)(4.283,0.251)(4.267,0.334)
(4.328,0.279)(4.308,0.395)(4.364,0.304)(4.385,0.36)(4.433,0.265)(4.417,0.421)
(4.478,0.292)(4.458,0.347)(4.514,0.242)(4.535,0.376)(4.583,0.318)(4.567,0.408)
(4.628,0.247)(4.608,0.33)(4.664,0.275)(4.685,0.391)(4.733,0.3)(4.717,0.356)
(4.778,0.261)(4.758,0.417)(4.814,0.288)(4.835,0.343)(4.883,0.238)(4.867,0.372)
(4.928,0.314)(4.908,0.404)(4.964,0.249)(4.985,0.332)
(0.872,0.283)(0.854,0.371)(0.863,0.468)(0.886,0.312)(0.909,0.429)(0.882,0.276)
(0.934,0.346)(0.915,0.497)(0.939,0.301)(0.977,0.269)(0.959,0.394)(0.968,0.452)
(0.991,0.327)(1.014,0.418)(0.987,0.358)(1.039,0.291)(1.02,0.379)(1.044,0.476)
(1.082,0.32)(1.064,0.437)(1.073,0.284)(1.096,0.354)(1.119,0.505)(1.092,0.309)
(1.144,0.277)(1.125,0.402)(1.149,0.46)(1.187,0.335)(1.169,0.426)(1.178,0.366)
(1.201,0.277)(1.224,0.365)(1.197,0.462)(1.249,0.306)(1.23,0.423)(1.254,0.27)
(1.292,0.34)(1.274,0.491)(1.283,0.295)(1.306,0.263)(1.329,0.388)(1.302,0.446)
(1.354,0.321)(1.335,0.412)(1.359,0.352)(1.397,0.294)(1.379,0.382)(1.388,0.479)
(1.411,0.323)(1.434,0.44)(1.407,0.287)(1.459,0.357)(1.44,0.508)(1.464,0.312)
(1.502,0.28)(1.484,0.405)(1.493,0.463)(1.516,0.338)(1.539,0.429)(1.512,0.369)
(1.564,0.279)(1.545,0.367)(1.569,0.464)(1.607,0.308)(1.589,0.425)(1.598,0.272)
(1.621,0.342)(1.644,0.493)(1.617,0.297)(1.669,0.265)(1.65,0.39)(1.674,0.448)
(1.712,0.323)(1.694,0.414)(1.703,0.354)(1.726,0.288)(1.749,0.376)(1.722,0.473)
(1.774,0.317)(1.755,0.434)(1.779,0.281)(1.817,0.351)(1.799,0.502)(1.808,0.306)
(1.831,0.274)(1.854,0.399)(1.827,0.457)(1.879,0.332)(1.86,0.423)(1.884,0.363)
(1.922,0.273)(1.904,0.361)(1.913,0.458)(1.936,0.302)(1.959,0.419)(1.932,0.266)
(1.984,0.336)(1.965,0.487)(1.989,0.291)(2.027,0.259)(2.009,0.384)(2.018,0.442)
(2.041,0.317)(2.064,0.408)(2.037,0.348)(2.089,0.29)(2.07,0.378)(2.094,0.475)
(2.132,0.319)(2.114,0.436)(2.123,0.283)(2.146,0.353)(2.169,0.504)(2.142,0.308)
(2.194,0.276)(2.175,0.401)(2.199,0.459)(2.237,0.334)(2.219,0.425)(2.228,0.365)
(2.251,0.28)(2.274,0.368)(2.247,0.465)(2.299,0.309)(2.28,0.426)(2.304,0.273)
(2.342,0.343)(2.324,0.494)(2.333,0.298)(2.356,0.266)(2.379,0.391)(2.352,0.449)
(2.404,0.324)(2.385,0.415)(2.409,0.355)(2.447,0.292)(2.429,0.38)(2.438,0.477)
(2.461,0.321)(2.484,0.438)(2.457,0.285)(2.509,0.355)(2.49,0.506)(2.514,0.31)
(2.552,0.278)(2.534,0.403)(2.543,0.461)(2.566,0.336)(2.589,0.427)(2.562,0.367)
};
% ---- upper region y 0.45-0.9
\addplot[pts] coordinates {
(0.71,0.478)(0.686,0.633)(0.704,0.812)(0.737,0.521)(0.762,0.704)
(0.805,0.459)(0.785,0.587)(0.778,0.745)(0.845,0.552)(0.821,0.681)
(0.872,0.496)(0.897,0.768)(0.878,0.615)(0.94,0.539)(0.92,0.837)
(0.98,0.467)(0.956,0.724)(0.974,0.571)(1.007,0.508)(1.032,0.789)
(1.075,0.583)(1.055,0.855)(1.048,0.696)
(1.115,0.491)(1.091,0.646)(1.142,0.534)(1.167,0.717)(1.148,0.879)
(1.21,0.472)(1.19,0.6)(1.25,0.565)(1.226,0.694)(1.244,0.9)
(1.277,0.509)(1.302,0.781)(1.345,0.552)(1.325,0.85)(1.318,0.675)
(1.385,0.48)(1.361,0.737)(1.412,0.521)(1.437,0.802)(1.418,0.661)
(1.48,0.596)(1.46,0.868)
(1.52,0.469)(1.496,0.624)(1.514,0.803)(1.547,0.512)(1.572,0.695)
(1.615,0.45)(1.595,0.578)(1.588,0.736)(1.655,0.543)(1.631,0.672)
(1.682,0.487)(1.707,0.759)(1.688,0.606)(1.75,0.53)(1.73,0.828)
(1.79,0.458)(1.766,0.715)(1.784,0.562)(1.817,0.499)(1.842,0.78)
(1.885,0.574)(1.865,0.846)(1.858,0.687)
(1.925,0.499)(1.901,0.654)(1.952,0.542)(1.977,0.725)(1.958,0.887)
(2.02,0.48)(2.0,0.608)(2.06,0.573)(2.036,0.702)(2.054,0.9)
(2.087,0.517)(2.112,0.789)(2.155,0.56)(2.135,0.858)(2.128,0.683)
(2.195,0.488)(2.171,0.745)(2.222,0.529)(2.247,0.81)(2.228,0.669)
(2.29,0.604)(2.27,0.876)
(2.33,0.461)(2.306,0.616)(2.324,0.795)(2.357,0.504)(2.382,0.687)
(2.425,0.442)(2.405,0.57)(2.398,0.728)(2.465,0.535)(2.441,0.664)
(2.492,0.479)(2.517,0.751)(2.498,0.598)(2.56,0.522)(2.54,0.82)
(2.6,0.45)(2.576,0.707)(2.594,0.554)(2.627,0.491)(2.652,0.772)
(2.695,0.566)(2.675,0.838)(2.668,0.679)
(2.735,0.484)(2.711,0.639)(2.762,0.527)(2.787,0.71)(2.768,0.872)
(2.83,0.465)(2.81,0.593)(2.87,0.558)(2.846,0.687)(2.864,0.899)
(2.897,0.502)(2.922,0.774)(2.965,0.545)(2.945,0.843)(2.938,0.668)
(3.005,0.473)(2.981,0.73)(3.032,0.514)(3.057,0.795)(3.038,0.654)
(3.1,0.589)(3.08,0.861)
(3.14,0.454)(3.116,0.609)(3.134,0.788)(3.167,0.497)(3.192,0.68)
(3.235,0.435)(3.215,0.563)(3.208,0.721)(3.275,0.528)(3.251,0.657)
(3.302,0.472)(3.327,0.744)(3.308,0.591)(3.37,0.515)(3.35,0.813)
(3.41,0.443)(3.386,0.7)(3.404,0.547)(3.437,0.484)(3.462,0.765)
(3.505,0.559)(3.485,0.831)(3.478,0.672)
(3.545,0.493)(3.521,0.648)(3.572,0.536)(3.597,0.719)(3.578,0.881)
(3.64,0.474)(3.62,0.602)(3.68,0.567)(3.656,0.696)(3.674,0.9)
(3.707,0.511)(3.732,0.783)(3.775,0.554)(3.755,0.852)(3.748,0.677)
(3.815,0.482)(3.791,0.739)(3.842,0.523)(3.867,0.804)(3.848,0.663)
(3.91,0.598)(3.89,0.87)
(3.95,0.474)(3.926,0.629)(3.944,0.808)(3.977,0.517)(4.002,0.7)
(4.045,0.455)(4.025,0.583)(4.018,0.741)(4.085,0.548)(4.061,0.677)
(4.112,0.492)(4.137,0.764)(4.118,0.611)(4.18,0.535)(4.16,0.833)
(4.22,0.463)(4.196,0.72)(4.214,0.567)(4.247,0.504)(4.272,0.785)
(4.315,0.579)(4.295,0.851)(4.288,0.692)
(4.355,0.496)(4.331,0.651)(4.382,0.539)(4.407,0.722)(4.388,0.884)
(4.45,0.477)(4.43,0.605)(4.49,0.57)(4.466,0.699)(4.484,0.9)
(4.517,0.514)(4.542,0.786)(4.585,0.557)(4.565,0.855)(4.558,0.68)
(4.625,0.485)(4.601,0.742)(4.652,0.526)(4.677,0.807)(4.658,0.666)
(4.72,0.601)(4.70,0.873)
(4.76,0.466)(4.736,0.621)(4.754,0.8)(4.787,0.509)(4.812,0.692)
(4.855,0.447)(4.835,0.575)(4.828,0.733)(4.895,0.54)(4.871,0.669)
(4.922,0.484)(4.947,0.756)(4.928,0.603)(4.99,0.527)(4.97,0.825)
(0.912,0.612)(0.958,0.781)(0.993,0.543)(1.036,0.688)(1.071,0.829)(1.118,0.502)
(1.163,0.741)(1.204,0.598)(1.237,0.872)(1.281,0.655)(1.322,0.486)(1.364,0.797)
(1.403,0.574)(1.447,0.713)(1.489,0.841)(1.533,0.526)(1.578,0.667)(1.621,0.898)
(1.662,0.549)(1.703,0.736)(1.748,0.613)(1.792,0.482)(1.836,0.692)(1.879,0.814)
(1.921,0.567)(1.964,0.643)(2.011,0.775)(2.053,0.515)(2.097,0.851)(2.139,0.604)
(2.183,0.729)(2.226,0.547)(2.268,0.668)(2.312,0.887)(2.357,0.573)(2.401,0.712)
(2.446,0.493)(2.489,0.804)(2.534,0.631)(2.578,0.558)(2.623,0.747)(2.667,0.869)
(2.712,0.592)(2.756,0.681)(2.801,0.509)(2.846,0.763)(2.893,0.626)(2.938,0.834)
(2.982,0.551)
(0.931,0.472)(1.012,0.531)(1.094,0.458)(1.177,0.563)(1.259,0.477)(1.341,0.592)
(1.428,0.461)(1.511,0.544)(1.597,0.503)(1.684,0.468)(1.771,0.557)(1.853,0.481)
(1.942,0.526)(2.031,0.453)(2.118,0.579)(2.205,0.497)(2.293,0.462)(2.381,0.548)
(2.469,0.518)(2.557,0.474)(2.646,0.536)(2.734,0.455)(2.823,0.502)(2.911,0.569)
(3.06,0.487)(3.21,0.523)(3.36,0.462)(3.52,0.507)(3.69,0.541)(3.86,0.468)
(4.03,0.512)(4.21,0.476)(4.39,0.533)(4.58,0.461)(4.77,0.498)(4.93,0.452)
(0.083,0.9)(0.287,0.9)(0.41,0.9)(0.553,0.9)(0.598,0.9)(0.672,0.9)(0.706,0.9)
(0.74,0.9)(1.43,0.9)(1.46,0.9)(1.72,0.9)(2.04,0.9)(2.91,0.9)(3.36,0.9)(4.12,0.9)
};
% ---- negative values
\addplot[pts] coordinates {
(0.629,-0.012)(0.608,-0.058)(0.653,-0.034)(0.713,-0.071)(0.696,-0.021)(0.749,-0.046)
(0.773,-0.089)(0.794,-0.027)(0.833,-0.015)(0.869,-0.063)(0.848,-0.039)(0.893,-0.094)
(0.953,-0.008)(0.936,-0.052)(0.989,-0.077)
(1.013,-0.008)(1.034,-0.054)(1.073,-0.03)(1.109,-0.067)(1.088,-0.017)(1.133,-0.042)
(1.193,-0.085)(1.176,-0.023)(1.229,-0.011)(1.253,-0.059)(1.274,-0.035)(1.313,-0.09)
(1.349,-0.004)(1.328,-0.048)(1.373,-0.073)
(1.433,-0.018)(1.416,-0.064)(1.469,-0.04)(1.493,-0.077)(1.514,-0.027)(1.553,-0.052)
(1.589,-0.095)(1.568,-0.033)(1.613,-0.021)(1.673,-0.069)(1.656,-0.045)(1.709,-0.1)
(1.733,-0.014)(1.754,-0.058)(1.793,-0.083)
(1.829,-0.009)(1.808,-0.055)(1.853,-0.031)(1.913,-0.068)(1.896,-0.018)(1.949,-0.043)
(1.973,-0.086)(1.994,-0.024)(2.033,-0.012)(2.069,-0.06)(2.048,-0.036)(2.093,-0.091)
(2.153,-0.005)(2.136,-0.049)(2.189,-0.074)
(2.213,-0.014)(2.234,-0.06)(2.273,-0.036)(2.309,-0.073)(2.288,-0.023)(2.333,-0.048)
(2.393,-0.091)(2.376,-0.029)(2.429,-0.017)(2.453,-0.065)(2.474,-0.041)(2.513,-0.096)
(2.549,-0.01)(2.528,-0.054)(2.573,-0.079)
(2.633,-0.007)(2.616,-0.053)(2.669,-0.029)(2.693,-0.066)(2.714,-0.016)(2.753,-0.041)
(2.789,-0.084)(2.768,-0.022)(2.813,-0.01)(2.873,-0.058)(2.856,-0.034)(2.909,-0.089)
(2.933,-0.003)(2.954,-0.047)(2.993,-0.072)
(3.029,-0.016)(3.008,-0.062)(3.053,-0.038)(3.113,-0.075)(3.096,-0.025)(3.149,-0.05)
(3.173,-0.093)(3.194,-0.031)(3.233,-0.019)(3.269,-0.067)(3.248,-0.043)(3.293,-0.098)
(3.353,-0.012)(3.336,-0.056)(3.389,-0.081)
(3.413,-0.006)(3.434,-0.052)(3.473,-0.028)(3.509,-0.065)(3.488,-0.015)(3.533,-0.04)
(3.593,-0.083)(3.629,-0.009)(3.653,-0.057)(3.674,-0.033)(3.713,-0.088)(3.749,-0.002)
(3.728,-0.046)(3.773,-0.071)
(3.833,-0.015)(3.869,-0.037)(3.893,-0.074)(3.914,-0.024)(3.953,-0.049)(3.989,-0.092)
(4.013,-0.018)(4.073,-0.066)(4.056,-0.042)(4.109,-0.097)(4.133,-0.011)(4.193,-0.08)
(4.229,-0.01)(4.208,-0.056)(4.253,-0.032)(4.313,-0.069)(4.349,-0.044)(4.373,-0.087)
(4.394,-0.025)(4.433,-0.013)(4.469,-0.061)(4.493,-0.092)(4.553,-0.006)(4.536,-0.05)
(4.589,-0.075)
(4.613,-0.017)(4.673,-0.039)(4.709,-0.076)(4.688,-0.026)(4.733,-0.051)(4.793,-0.094)
(4.829,-0.02)(4.853,-0.068)(4.874,-0.044)(4.913,-0.099)(4.949,-0.013)(4.973,-0.082)
(0.927,-0.004)(0.941,-0.027)(0.984,-0.013)(1.008,-0.041)(1.051,-0.019)(1.077,-0.008)
(1.091,-0.034)(1.134,-0.022)(1.158,-0.046)(1.201,-0.011)(1.227,-0.031)(1.241,-0.004)
(1.284,-0.027)(1.308,-0.013)(1.351,-0.041)(1.377,-0.019)(1.391,-0.008)(1.434,-0.034)
(1.458,-0.022)(1.501,-0.046)(1.527,-0.011)(1.541,-0.031)(1.584,-0.004)(1.608,-0.027)
(1.651,-0.013)(1.677,-0.041)(1.691,-0.019)(1.734,-0.008)(1.758,-0.034)(1.801,-0.022)
(1.827,-0.046)(1.841,-0.011)(1.884,-0.031)(1.908,-0.004)(1.951,-0.027)(1.977,-0.013)
(1.991,-0.041)(2.034,-0.019)(2.058,-0.008)(2.101,-0.034)(2.127,-0.022)(2.141,-0.046)
(2.184,-0.011)(2.208,-0.031)(2.251,-0.004)(2.277,-0.027)(2.291,-0.013)(2.334,-0.041)
(2.358,-0.019)(2.401,-0.008)(2.427,-0.034)(2.441,-0.022)(2.484,-0.046)(2.508,-0.011)
(2.551,-0.031)(2.577,-0.004)(2.591,-0.027)(2.634,-0.013)(2.658,-0.041)(2.701,-0.019)
(2.727,-0.008)(2.741,-0.034)(2.784,-0.022)(2.808,-0.046)(2.851,-0.011)(2.877,-0.031)
(2.891,-0.004)(2.934,-0.027)(2.958,-0.013)(3.001,-0.041)(3.027,-0.019)(3.041,-0.008)
(3.084,-0.034)(3.108,-0.022)(3.151,-0.046)(3.177,-0.011)(3.191,-0.031)(3.234,-0.004)
(3.258,-0.027)(3.301,-0.013)(3.327,-0.041)(3.341,-0.019)(3.384,-0.008)(3.408,-0.034)
(3.451,-0.022)(3.477,-0.046)(3.491,-0.011)
};
% ---- zero values and the sparse left part
\addplot[pts] coordinates {
(0.008,0)(0.032,0)(0.061,0)(0.088,0)(0.117,0)(0.146,0)(0.171,0)(0.203,0)(0.229,0)
(0.262,0)(0.287,0)(0.318,0)(0.343,0)(0.372,0)(0.401,0)(0.436,0)(0.462,0)(0.489,0)
(0.517,0)(0.548,0)(0.576,0)(0.603,0)(0.637,0)(0.702,0)(0.731,0)(0.766,0)(0.811,0)
(0.857,0)(0.903,0)(0.962,0)(1.04,0)(1.12,0)(1.19,0)(1.27,0)(1.36,0)(1.44,0)(1.53,0)
(1.61,0)(1.69,0)(1.78,0)(1.87,0)(1.96,0)(2.07,0)(2.16,0)(2.27,0)(2.38,0)(2.49,0)
(2.61,0)(2.73,0)(2.86,0)(2.98,0)(3.12,0)(3.27,0)(3.41,0)(3.57,0)(3.73,0)(3.9,0)
(4.08,0)(4.26,0)(4.44,0)(4.63,0)(4.82,0)
(0.006,0.84)(0.034,0.75)(0.025,0.713)(0.1,0.57)(0.119,0.546)(0.157,0.552)(0.194,0.646)
(0.166,0.616)(0.25,0.558)(0.27,0.75)(0.326,0.719)(0.44,0.707)(0.496,0.768)(0.515,0.762)
(0.4,0.664)(0.447,0.664)(0.475,0.664)(0.42,0.576)(0.477,0.6)(0.515,0.618)(0.553,0.637)
(0.572,0.622)(0.6,0.619)(0.628,0.658)(0.666,0.67)(0.675,0.686)(0.694,0.719)(0.703,0.728)
(0.722,0.755)(0.75,0.768)(0.66,0.8)(0.63,0.78)(0.585,0.73)(0.54,0.69)(0.61,0.555)
(0.645,0.525)(0.69,0.5)(0.72,0.52)(0.555,0.5)(0.5,0.52)(0.47,0.48)(0.58,0.47)
(0.65,0.455)(0.74,0.585)(0.7,0.61)(0.36,0.62)(0.31,0.535)(0.13,0.48)(0.06,0.495)
(0.025,0.223)(0.072,0.141)(0.09,0.141)(0.087,0.103)(0.138,0.287)(0.223,0.223)(0.25,0.1)
(0.27,0.1)(0.29,0.287)(0.326,0.287)(0.317,0.232)(0.39,0.25)(0.44,0.305)(0.364,0.168)
(0.383,0.141)(0.417,0.092)(0.477,0.141)(0.496,0.223)(0.458,0.235)(0.525,0.265)
(0.553,0.311)(0.628,0.287)(0.666,0.202)(0.59,0.177)(0.647,0.341)(0.666,0.36)
(0.59,0.117)(0.647,0.135)(0.553,0.062)(0.477,0.038)(0.043,-0.011)(0.128,-0.072)
(0.175,-0.06)(0.204,-0.087)(0.411,-0.044)(0.581,-0.093)(0.647,-0.048)(0.572,-0.036)
(0.326,0.421)(0.41,0.385)(0.52,0.43)(0.575,0.395)(0.62,0.37)(0.69,0.41)(0.73,0.38)
(0.71,0.25)(0.735,0.15)(0.7,0.09)(0.72,0.04)(0.68,0.06)(0.615,0.08)(0.54,0.16)
(0.5,0.09)(0.6,0.23)(0.74,0.3)(0.715,0.195)(0.655,0.245)(0.7,0.33)(0.545,0.36)
};
% ---- third quartile
\addplot[black, line width=2.3pt, line join=round, dash pattern=on 12pt off 3pt] coordinates {
(0.147,0.804)(0.166,0.761)(0.175,0.822)(0.195,0.84)(0.213,0.859)(0.222,0.837)(0.25,0.834)
(0.29,0.831)(0.31,0.859)(0.326,0.895)(0.355,0.88)(0.374,0.853)(0.4,0.859)(0.43,0.847)
(0.46,0.871)(0.477,0.883)(0.496,0.865)(0.515,0.883)(0.553,0.874)(0.572,0.877)(0.59,0.859)
(0.6,0.816)(0.619,0.847)(0.638,0.834)(0.657,0.853)(0.666,0.804)(0.694,0.816)(0.723,0.804)
(0.75,0.792)(0.77,0.749)(0.783,0.707)(0.798,0.774)(0.817,0.725)(0.836,0.786)(0.845,0.847)
(0.855,0.886)(0.87,0.847)(0.883,0.81)(0.892,0.731)(0.911,0.682)(0.92,0.634)(0.93,0.573)
(0.94,0.531)(0.968,0.525)(0.996,0.506)(1.015,0.573)(1.043,0.61)(1.066,0.646)(1.09,0.597)
(1.11,0.561)(1.128,0.537)(1.157,0.561)(1.185,0.603)(1.213,0.622)(1.22,0.65)(1.25,0.53)
(1.27,0.43)(1.29,0.45)(1.31,0.60)(1.325,0.665)(1.35,0.653)(1.356,0.59)(1.37,0.55)
(1.4,0.57)(1.42,0.55)(1.44,0.62)(1.46,0.56)(1.48,0.5)(1.5,0.41)(1.52,0.48)(1.555,0.45)
(1.59,0.36)(1.61,0.41)(1.67,0.404)(1.725,0.43)(1.74,0.49)(1.79,0.465)(1.85,0.545)
(1.88,0.49)(1.915,0.40)(1.95,0.465)(1.99,0.477)(2.03,0.38)(2.07,0.44)(2.085,0.404)
(2.16,0.38)(2.21,0.295)(2.255,0.367)(2.30,0.366)(2.37,0.397)(2.41,0.372)(2.44,0.336)
(2.485,0.366)(2.52,0.366)(2.58,0.336)(2.61,0.31)(2.67,0.348)(2.75,0.324)(2.815,0.342)
(2.86,0.324)(2.93,0.30)(2.975,0.28)(3.05,0.287)(3.09,0.318)(3.135,0.318)(3.16,0.293)
(3.19,0.269)(3.24,0.25)(3.315,0.257)(3.39,0.269)(3.50,0.275)(3.62,0.28)(3.71,0.287)
(3.74,0.253)(3.77,0.28)(3.84,0.28)(3.88,0.271)(3.92,0.299)(3.975,0.305)(4.03,0.311)
(4.07,0.296)(4.115,0.311)(4.17,0.305)(4.2,0.275)(4.22,0.262)(4.295,0.259)(4.37,0.262)
(4.445,0.253)(4.49,0.244)(4.56,0.253)(4.65,0.25)(4.73,0.247)(4.82,0.253)(4.9,0.244)
(4.97,0.238)(5.0,0.24)
};
\addlegendentry{third quartile}
% ---- median
\addplot[black, line width=2.5pt, line join=round] coordinates {
(0.138,0.32)(0.157,0.332)(0.194,0.344)(0.213,0.353)(0.241,0.341)(0.27,0.372)(0.307,0.347)
(0.317,0.335)(0.364,0.335)(0.383,0.372)(0.4,0.4)(0.44,0.4)(0.47,0.418)(0.495,0.415)
(0.51,0.406)(0.54,0.433)(0.57,0.424)(0.6,0.44)(0.625,0.42)(0.655,0.442)(0.675,0.409)
(0.7,0.372)(0.73,0.324)(0.75,0.281)(0.78,0.226)(0.795,0.293)(0.815,0.287)(0.85,0.33)
(0.87,0.3)(0.91,0.281)(0.945,0.275)(0.985,0.257)(1.02,0.208)(1.03,0.19)(1.06,0.245)
(1.1,0.226)(1.135,0.22)(1.17,0.25)(1.22,0.269)(1.26,0.238)(1.28,0.202)(1.305,0.293)
(1.325,0.342)(1.35,0.269)(1.38,0.281)(1.42,0.324)(1.45,0.269)(1.485,0.208)(1.51,0.19)
(1.55,0.172)(1.58,0.159)(1.625,0.208)(1.68,0.22)(1.72,0.208)(1.775,0.22)(1.815,0.25)
(1.87,0.257)(1.91,0.196)(1.985,0.232)(2.02,0.178)(2.06,0.184)(2.12,0.202)(2.175,0.147)
(2.19,0.123)(2.23,0.153)(2.29,0.172)(2.345,0.181)(2.4,0.159)(2.44,0.135)(2.5,0.172)
(2.555,0.153)(2.61,0.117)(2.67,0.172)(2.705,0.181)(2.76,0.147)(2.82,0.153)(2.88,0.156)
(2.93,0.141)(3.01,0.135)(3.085,0.159)(3.13,0.162)(3.18,0.138)(3.24,0.12)(3.3,0.129)
(3.37,0.141)(3.45,0.153)(3.5,0.132)(3.58,0.117)(3.61,0.101)(3.65,0.123)(3.71,0.104)
(3.75,0.129)(3.8,0.123)(3.86,0.138)(3.94,0.159)(3.975,0.15)(4.03,0.147)(4.05,0.138)
(4.14,0.129)(4.26,0.12)(4.37,0.117)(4.48,0.111)(4.6,0.111)(4.71,0.108)(4.77,0.111)
(4.82,0.129)(4.88,0.135)(4.93,0.126)(4.95,0.117)(4.99,0.129)(5.0,0.125)
};
\addlegendentry{median}
% ---- first quartile
\addplot[black, line width=2pt, line join=round, dash pattern=on 5pt off 3.5pt] coordinates {
(0.14,0.0)(0.2,0.0)(0.24,0.0)(0.26,0.007)(0.27,0.038)(0.29,0.071)(0.3,0.032)(0.31,0.022)
(0.33,0.0)(0.36,0.0)(0.383,0.02)(0.4,0.05)(0.44,0.062)(0.475,0.044)(0.505,0.032)
(0.52,0.044)(0.56,0.038)(0.59,0.062)(0.625,0.071)(0.66,0.068)(0.7,0.05)(0.72,0.044)
(0.76,0.056)(0.795,0.086)(0.83,0.074)(0.87,0.086)(0.91,0.074)(0.945,0.086)(0.985,0.068)
(1.02,0.056)(1.08,0.05)(1.125,0.062)(1.155,0.105)(1.175,0.074)(1.21,0.026)(1.24,0.062)
(1.27,0.074)(1.305,0.086)(1.345,0.08)(1.4,0.086)(1.44,0.074)(1.475,0.05)(1.51,0.05)
(1.55,0.038)(1.59,0.026)(1.645,0.026)(1.7,0.044)(1.76,0.05)(1.815,0.074)(1.85,0.092)
(1.91,0.078)(2.0,0.062)(2.08,0.068)(2.11,0.078)(2.14,0.05)(2.165,0.032)(2.21,0.05)
(2.27,0.062)(2.33,0.047)(2.37,0.071)(2.42,0.056)(2.48,0.056)(2.535,0.053)(2.61,0.044)
(2.69,0.044)(2.78,0.032)(2.86,0.038)(2.935,0.035)(2.96,0.02)(3.01,0.026)(3.085,0.05)
(3.13,0.059)(3.17,0.05)(3.22,0.035)(3.275,0.032)(3.35,0.047)(3.41,0.056)(3.45,0.041)
(3.5,0.032)(3.6,0.026)(3.69,0.029)(3.8,0.032)(3.88,0.035)(3.955,0.029)(4.05,0.038)
(4.14,0.041)(4.24,0.044)(4.33,0.047)(4.41,0.035)(4.48,0.035)(4.56,0.029)(4.63,0.026)
(4.74,0.026)(4.82,0.027)(4.91,0.029)(4.98,0.026)(5.0,0.025)
};
\addlegendentry{first quartile}
\draw[black!85, line width=1pt] (rel axis cs:0,1) -- (rel axis cs:1,1);
\end{axis}
\pgfresetboundingbox
\useasboundingbox (-57.5pt,-35pt) rectangle (440.5pt,281pt);
\end{tikzpicture}
\end{document}
